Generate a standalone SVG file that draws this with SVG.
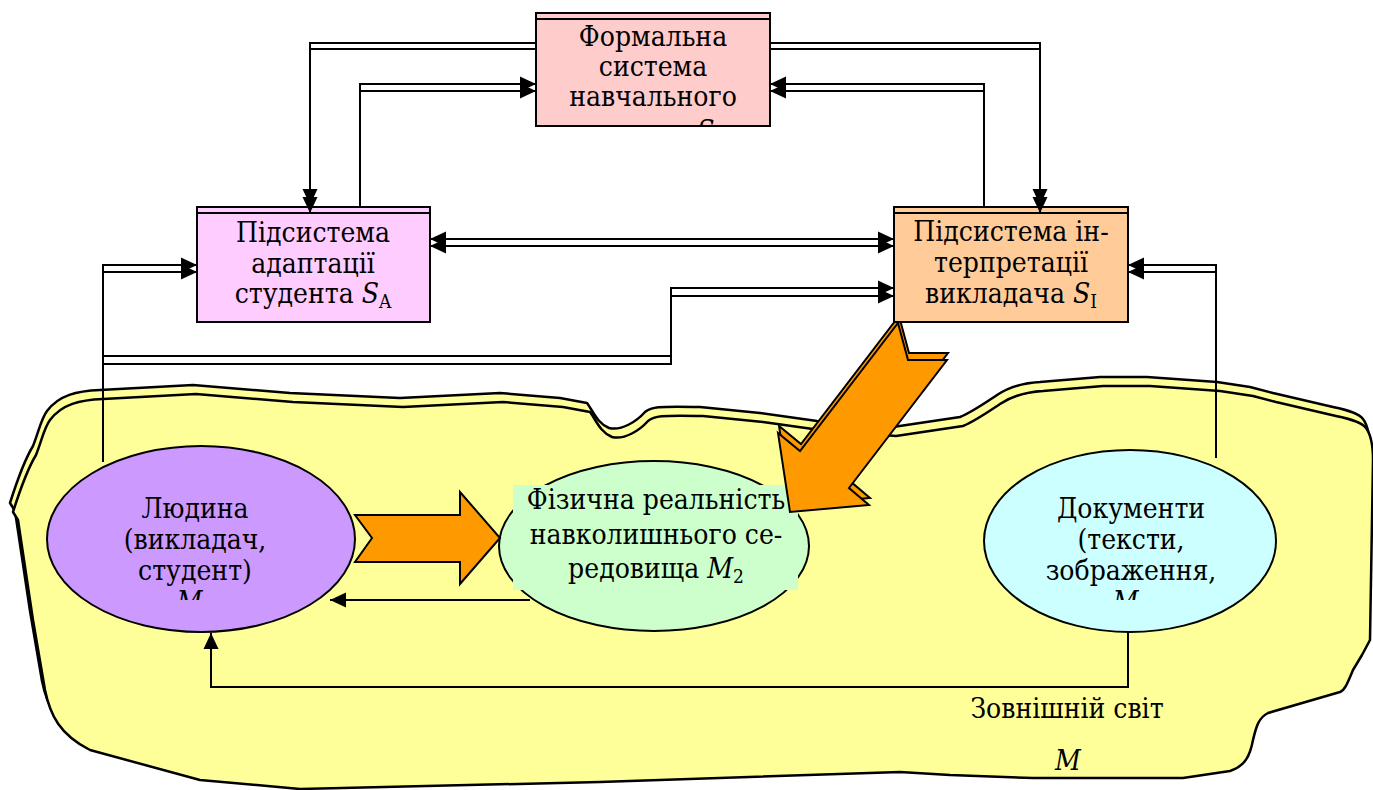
<svg xmlns="http://www.w3.org/2000/svg" width="1373" height="790" viewBox="0 0 1373 790">
<style>
.t{font-family:"DejaVu Serif Condensed","DejaVu Serif","Liberation Serif",serif;font-size:28px;fill:#000;text-anchor:middle}
.i{font-style:italic}
.sb{font-size:19px}
.ln{fill:none;stroke:#000;stroke-width:2}
.bx{stroke:#000;stroke-width:2}
.el{stroke:#000;stroke-width:2}
.or{fill:#FF9900;stroke:#000;stroke-width:2;stroke-linejoin:miter}
.blob{fill:#FFFF99;stroke:#000;stroke-width:2.5;stroke-linejoin:round}
</style>
<defs>
<marker id="ah" markerUnits="userSpaceOnUse" markerWidth="18" markerHeight="16" refX="16" refY="7.5" orient="auto-start-reverse" viewBox="0 0 18 15">
<path d="M0,0 L16,7.5 L0,15 z" fill="#000"/>
</marker>
<clipPath id="cTop"><rect x="536" y="13" width="234" height="113"/></clipPath>
<clipPath id="cL"><rect x="40" y="440" width="330" height="160"/></clipPath>
<clipPath id="cD"><rect x="980" y="440" width="300" height="160"/></clipPath>
</defs>

<g id="world">
<path class="blob" transform="translate(-3,-9)" d="M13,512 C20,490 28,468 36,455 C42,440 44,428 50,420 C62,404 80,400 103,399 L196,394 L293,402 L403,407 L503,402 L563,407 L590,412 C596,420 600,432 612,437 C625,440 640,430 648,421 C654,416 660,415 703,416 L763,422 L820,430 L896,436 L963,426 C975,421 985,414 1000,404 C1012,396 1025,392 1043,391 L1103,386 L1150,386 L1220,391 L1253,396 L1276,402 L1336,416 C1350,419 1362,422 1366,428 C1372,436 1373,450 1373,460 L1370,640 L1362,655 L1353,670 C1348,682 1345,690 1340,692 L1268,713 C1258,718 1256,728 1253,740 C1250,756 1245,766 1230,771 L1183,778 L1033,778 L950,775 L900,772 L600,782 L300,789 L200,780 L90,750 C60,735 50,715 45,690 L33,620 L18,520 Z"/>
<path class="blob" d="M13,512 C20,490 28,468 36,455 C42,440 44,428 50,420 C62,404 80,400 103,399 L196,394 L293,402 L403,407 L503,402 L563,407 L590,412 C596,420 600,432 612,437 C625,440 640,430 648,421 C654,416 660,415 703,416 L763,422 L820,430 L896,436 L963,426 C975,421 985,414 1000,404 C1012,396 1025,392 1043,391 L1103,386 L1150,386 L1220,391 L1253,396 L1276,402 L1336,416 C1350,419 1362,422 1366,428 C1372,436 1373,450 1373,460 L1370,640 L1362,655 L1353,670 C1348,682 1345,690 1340,692 L1268,713 C1258,718 1256,728 1253,740 C1250,756 1245,766 1230,771 L1183,778 L1033,778 L950,775 L900,772 L600,782 L300,789 L200,780 L90,750 C60,735 50,715 45,690 L33,620 L18,520 Z"/>
<text class="t" x="1067" y="718">Зовнішній світ</text>
<text class="t i" x="1068" y="770">M</text>
</g>

<g id="lyudyna">
<ellipse class="el" cx="201" cy="539" rx="154" ry="93" fill="#CC99FF"/>
<text class="t" x="195" y="518">Людина</text>
<text class="t" x="195" y="549">(викладач,</text>
<text class="t" x="195" y="580">студент)</text>
<text class="t i" x="195" y="611" clip-path="url(#cL)">M<tspan class="sb" dy="5" font-style="normal">1</tspan></text>
</g>

<g id="fizychna">
<ellipse class="el" cx="654" cy="546" rx="155" ry="85" fill="#CCFFCC"/>
<rect x="513" y="485" width="285" height="105" fill="#CCFFCC"/>
<text class="t" x="656" y="509">Фізична реальність</text>
<text class="t" x="656" y="544">навколишнього се-</text>
<text class="t" x="656" y="578">редовища <tspan class="i">M</tspan><tspan class="sb" dy="5">2</tspan></text>
</g>

<g id="dokumenty">
<ellipse class="el" cx="1130" cy="541" rx="146" ry="91" fill="#CCFFFF"/>
<text class="t" x="1131" y="518">Документи</text>
<text class="t" x="1131" y="549">(тексти,</text>
<text class="t" x="1131" y="580">зображення,</text>
<text class="t i" x="1131" y="611" clip-path="url(#cD)">M<tspan class="sb" dy="5" font-style="normal">3</tspan></text>
</g>

<g id="arrow-orange-1">
<path class="or" d="M355,515 L460,515 L460,492 L500,538 L460,584 L460,562 L355,562 L372,538 Z"/>
</g>

<g id="arrow-orange-2">
<path class="or" transform="translate(1,-7)" d="M898,323 L908,360 L947,360 L849,488 L869,505 L790,512 L778,433 L800,451 Z"/>
<path class="or" d="M898,323 L908,360 L947,360 L849,488 L869,505 L790,512 L778,433 L800,451 Z"/>
</g>

<g id="formal">
<rect class="bx" x="536" y="13" width="234" height="113" fill="#FFCCCC"/>
<line x1="536" y1="19" x2="770" y2="19" stroke="#000" stroke-width="2"/>
<text class="t" x="653" y="46">Формальна</text>
<text class="t" x="653" y="76">система</text>
<text class="t" x="653" y="106">навчального</text>
<text class="t i" x="706" y="140" clip-path="url(#cTop)">S</text>
</g>

<g id="adaptation">
<rect class="bx" x="197" y="207" width="233" height="115" fill="#FFCCFF"/>
<line x1="197" y1="213" x2="430" y2="213" stroke="#000" stroke-width="2"/>
<text class="t" x="313" y="242">Підсистема</text>
<text class="t" x="313" y="273">адаптації</text>
<text class="t" x="313" y="303">студента <tspan class="i">S</tspan><tspan class="sb" dy="5">A</tspan></text>
</g>

<g id="interpretation">
<rect class="bx" x="894" y="207" width="234" height="115" fill="#FFCC99"/>
<line x1="894" y1="213" x2="1128" y2="213" stroke="#000" stroke-width="2"/>
<text class="t" x="1011" y="241">Підсистема ін-</text>
<text class="t" x="1011" y="272">терпретації</text>
<text class="t" x="1011" y="303">викладача <tspan class="i">S</tspan><tspan class="sb" dy="5">I</tspan></text>
</g>

<g id="connectors">
<polyline class="ln" points="536,43 310,43 310,205" marker-end="url(#ah)"/>
<polyline class="ln" points="536,49 310,49 310,213" marker-end="url(#ah)"/>
<polyline class="ln" points="360,207 360,84 536,84" marker-end="url(#ah)"/>
<polyline class="ln" points="360,207 360,91 536,91" marker-end="url(#ah)"/>
<polyline class="ln" points="770,43 1040,43 1040,205" marker-end="url(#ah)"/>
<polyline class="ln" points="770,49 1040,49 1040,213" marker-end="url(#ah)"/>
<polyline class="ln" points="984,207 984,84 770,84" marker-end="url(#ah)"/>
<polyline class="ln" points="984,207 984,91 770,91" marker-end="url(#ah)"/>
<line class="ln" x1="430" y1="239" x2="894" y2="239" marker-start="url(#ah)" marker-end="url(#ah)"/>
<line class="ln" x1="430" y1="246" x2="894" y2="246" marker-start="url(#ah)" marker-end="url(#ah)"/>
<polyline class="ln" points="103,462 103,265 197,265" marker-end="url(#ah)"/>
<polyline class="ln" points="103,462 103,272 197,272" marker-end="url(#ah)"/>
<polyline class="ln" points="103,356 671,356 671,288 894,288" marker-end="url(#ah)"/>
<polyline class="ln" points="103,364 671,364 671,296 894,296" marker-end="url(#ah)"/>
<polyline class="ln" points="1216,458 1216,265 1128,265" marker-end="url(#ah)"/>
<polyline class="ln" points="1216,458 1216,272 1128,272" marker-end="url(#ah)"/>
<polyline class="ln" points="1128,632 1128,687 211,687 211,633" marker-end="url(#ah)"/>
<line class="ln" x1="530" y1="600" x2="330" y2="600" marker-end="url(#ah)"/>
</g>
</svg>
